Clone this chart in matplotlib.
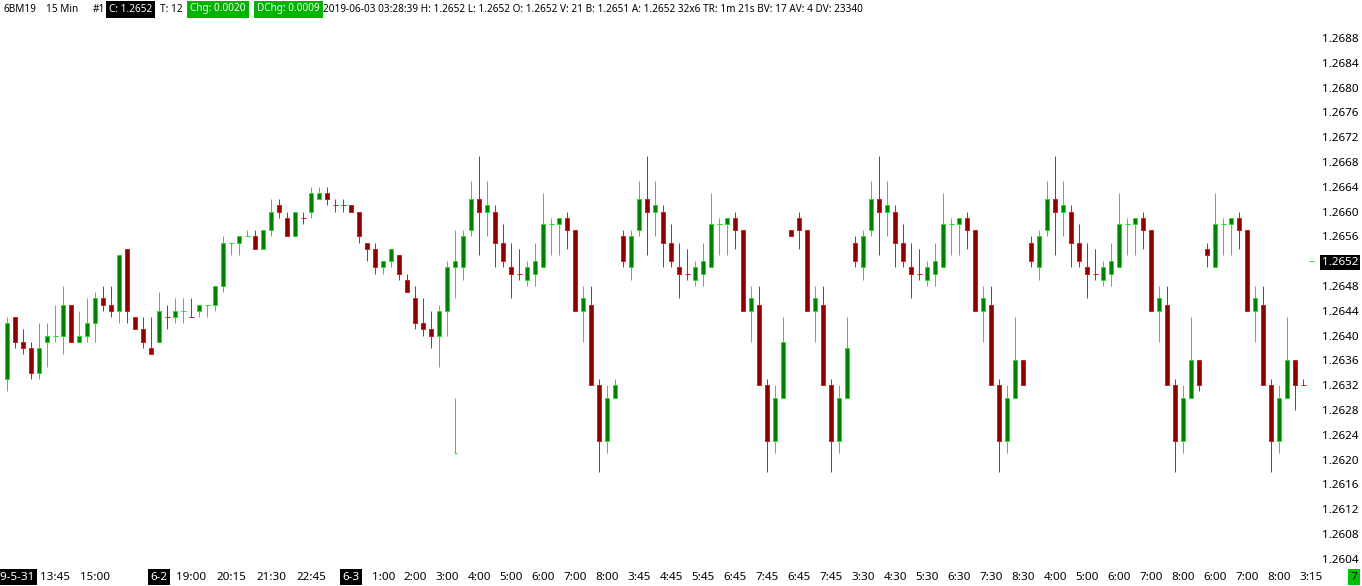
import matplotlib
matplotlib.use("Agg")
import matplotlib.pyplot as plt
from matplotlib.patches import Rectangle
import numpy as np

# 15-minute bars, 6BM19 (British pound futures)
opens = [
    1.2633, 1.2643, 1.2639, 1.2638, 1.2634, 1.2639, 1.2640, 1.2640, 1.2645, 1.2639,
    1.2640, 1.2642, 1.2646, 1.2645, 1.2644, 1.2654, 1.2643, 1.2641, 1.2638, 1.2639,
    1.2643, 1.2643, 1.2644, 1.2643, 1.2644, 1.2645, 1.2645, 1.2648, 1.2655, 1.2655,
    1.2656, 1.2656, 1.2654, 1.2657, 1.2661, 1.2659, 1.2656, 1.2659, 1.2660, 1.2662,
    1.2663, 1.2661, 1.2661, 1.2661, 1.2660, 1.2655, 1.2654, 1.2651, 1.2652, 1.2653,
    1.2649, 1.2646, 1.2642, 1.2641, 1.2640, 1.2644, 1.2651, 1.2651, 1.2657, 1.2662,
    1.2660, 1.2660, 1.2655, 1.2651, 1.2650, 1.2649, 1.2650, 1.2651, 1.2658, 1.2658,
    1.2659, 1.2657, 1.2644, 1.2645, 1.2632, 1.2623, 1.2630, 1.2656, 1.2651, 1.2657,
    1.2662, 1.2660, 1.2660, 1.2655, 1.2651, 1.2650, 1.2649, 1.2650, 1.2651, 1.2658,
    1.2658, 1.2659, 1.2657, 1.2644, 1.2645, 1.2632, 1.2623, 1.2630, 1.2657, 1.2659,
    1.2657, 1.2644, 1.2645, 1.2632, 1.2623, 1.2630, 1.2655, 1.2651, 1.2657, 1.2662,
    1.2660, 1.2660, 1.2655, 1.2651, 1.2650, 1.2649, 1.2650, 1.2651, 1.2658, 1.2658,
    1.2659, 1.2657, 1.2644, 1.2645, 1.2632, 1.2623, 1.2630, 1.2636, 1.2655, 1.2651,
    1.2657, 1.2662, 1.2660, 1.2660, 1.2655, 1.2651, 1.2650, 1.2649, 1.2650, 1.2651,
    1.2658, 1.2658, 1.2659, 1.2657, 1.2644, 1.2645, 1.2632, 1.2623, 1.2630, 1.2636,
    1.2654, 1.2651, 1.2658, 1.2658, 1.2659, 1.2657, 1.2644, 1.2645, 1.2632, 1.2623,
    1.2630, 1.2636, 1.2632, 1.2652,
]
highs = [
    1.2643, 1.2643, 1.2641, 1.2639, 1.2642, 1.2642, 1.2645, 1.2648, 1.2645, 1.2644,
    1.2646, 1.2647, 1.2648, 1.2648, 1.2653, 1.2654, 1.2643, 1.2643, 1.2643, 1.2647,
    1.2645, 1.2646, 1.2646, 1.2646, 1.2645, 1.2645, 1.2648, 1.2656, 1.2655, 1.2656,
    1.2657, 1.2657, 1.2657, 1.2662, 1.2662, 1.2660, 1.2660, 1.2660, 1.2664, 1.2664,
    1.2664, 1.2662, 1.2662, 1.2661, 1.2660, 1.2655, 1.2655, 1.2652, 1.2654, 1.2653,
    1.2650, 1.2648, 1.2646, 1.2644, 1.2645, 1.2652, 1.2657, 1.2657, 1.2665, 1.2669,
    1.2665, 1.2661, 1.2658, 1.2655, 1.2654, 1.2652, 1.2655, 1.2663, 1.2659, 1.2659,
    1.2660, 1.2657, 1.2648, 1.2648, 1.2633, 1.2632, 1.2633, 1.2657, 1.2657, 1.2665,
    1.2669, 1.2665, 1.2661, 1.2658, 1.2655, 1.2654, 1.2652, 1.2655, 1.2663, 1.2659,
    1.2659, 1.2660, 1.2657, 1.2648, 1.2648, 1.2633, 1.2632, 1.2643, 1.2657, 1.2660,
    1.2657, 1.2648, 1.2648, 1.2633, 1.2632, 1.2643, 1.2656, 1.2657, 1.2665, 1.2669,
    1.2665, 1.2661, 1.2658, 1.2655, 1.2654, 1.2652, 1.2655, 1.2663, 1.2659, 1.2659,
    1.2660, 1.2657, 1.2648, 1.2648, 1.2633, 1.2632, 1.2643, 1.2636, 1.2656, 1.2657,
    1.2665, 1.2669, 1.2665, 1.2661, 1.2658, 1.2655, 1.2654, 1.2652, 1.2655, 1.2663,
    1.2659, 1.2659, 1.2660, 1.2657, 1.2648, 1.2648, 1.2633, 1.2632, 1.2643, 1.2636,
    1.2655, 1.2663, 1.2659, 1.2659, 1.2660, 1.2657, 1.2648, 1.2648, 1.2633, 1.2632,
    1.2643, 1.2636, 1.2633, 1.2652,
]
lows = [
    1.2631, 1.2638, 1.2637, 1.2633, 1.2633, 1.2635, 1.2639, 1.2637, 1.2639, 1.2639,
    1.2639, 1.2639, 1.2644, 1.2643, 1.2642, 1.2642, 1.2641, 1.2638, 1.2637, 1.2639,
    1.2641, 1.2642, 1.2642, 1.2643, 1.2643, 1.2643, 1.2644, 1.2647, 1.2653, 1.2653,
    1.2656, 1.2654, 1.2654, 1.2656, 1.2659, 1.2656, 1.2656, 1.2658, 1.2659, 1.2662,
    1.2661, 1.2660, 1.2660, 1.2660, 1.2655, 1.2652, 1.2650, 1.2650, 1.2651, 1.2649,
    1.2647, 1.2641, 1.2640, 1.2638, 1.2635, 1.2640, 1.2646, 1.2649, 1.2656, 1.2653,
    1.2656, 1.2651, 1.2651, 1.2646, 1.2649, 1.2648, 1.2648, 1.2651, 1.2653, 1.2653,
    1.2654, 1.2644, 1.2639, 1.2632, 1.2618, 1.2621, 1.2630, 1.2651, 1.2649, 1.2656,
    1.2653, 1.2656, 1.2651, 1.2651, 1.2646, 1.2649, 1.2648, 1.2648, 1.2651, 1.2653,
    1.2653, 1.2654, 1.2644, 1.2639, 1.2632, 1.2618, 1.2621, 1.2630, 1.2656, 1.2654,
    1.2644, 1.2639, 1.2632, 1.2618, 1.2621, 1.2630, 1.2651, 1.2649, 1.2656, 1.2653,
    1.2656, 1.2651, 1.2651, 1.2646, 1.2649, 1.2648, 1.2648, 1.2651, 1.2653, 1.2653,
    1.2654, 1.2644, 1.2639, 1.2632, 1.2618, 1.2621, 1.2630, 1.2632, 1.2651, 1.2649,
    1.2656, 1.2653, 1.2656, 1.2651, 1.2651, 1.2646, 1.2649, 1.2648, 1.2648, 1.2651,
    1.2653, 1.2653, 1.2654, 1.2644, 1.2639, 1.2632, 1.2618, 1.2621, 1.2630, 1.2631,
    1.2651, 1.2651, 1.2653, 1.2653, 1.2654, 1.2644, 1.2639, 1.2632, 1.2618, 1.2621,
    1.2630, 1.2628, 1.2632, 1.2652,
]
closes = [
    1.2642, 1.2639, 1.2638, 1.2634, 1.2638, 1.2640, 1.2640, 1.2645, 1.2639, 1.2640,
    1.2642, 1.2646, 1.2645, 1.2644, 1.2653, 1.2644, 1.2641, 1.2639, 1.2637, 1.2644,
    1.2643, 1.2644, 1.2644, 1.2643, 1.2645, 1.2645, 1.2648, 1.2655, 1.2655, 1.2656,
    1.2656, 1.2654, 1.2657, 1.2660, 1.2660, 1.2656, 1.2660, 1.2659, 1.2663, 1.2663,
    1.2662, 1.2661, 1.2661, 1.2660, 1.2656, 1.2654, 1.2651, 1.2652, 1.2654, 1.2650,
    1.2647, 1.2642, 1.2641, 1.2640, 1.2644, 1.2651, 1.2652, 1.2656, 1.2662, 1.2660,
    1.2661, 1.2655, 1.2652, 1.2650, 1.2650, 1.2651, 1.2652, 1.2658, 1.2658, 1.2659,
    1.2657, 1.2644, 1.2646, 1.2632, 1.2623, 1.2630, 1.2632, 1.2652, 1.2656, 1.2662,
    1.2660, 1.2661, 1.2655, 1.2652, 1.2650, 1.2650, 1.2651, 1.2652, 1.2658, 1.2658,
    1.2659, 1.2657, 1.2644, 1.2646, 1.2632, 1.2623, 1.2630, 1.2639, 1.2656, 1.2657,
    1.2644, 1.2646, 1.2632, 1.2623, 1.2630, 1.2638, 1.2652, 1.2656, 1.2662, 1.2660,
    1.2661, 1.2655, 1.2652, 1.2650, 1.2650, 1.2651, 1.2652, 1.2658, 1.2658, 1.2659,
    1.2657, 1.2644, 1.2646, 1.2632, 1.2623, 1.2630, 1.2636, 1.2632, 1.2652, 1.2656,
    1.2662, 1.2660, 1.2661, 1.2655, 1.2652, 1.2650, 1.2650, 1.2651, 1.2652, 1.2658,
    1.2658, 1.2659, 1.2657, 1.2644, 1.2646, 1.2632, 1.2623, 1.2630, 1.2636, 1.2632,
    1.2653, 1.2658, 1.2658, 1.2659, 1.2657, 1.2644, 1.2646, 1.2632, 1.2623, 1.2630,
    1.2636, 1.2632, 1.2632, 1.2652,
]
# unchanged bars (open == close) that the chart paints as down bars
flat_down = [20, 23, 37, 41, 42, 64, 85, 114, 136, 162]

# stray print below bar 56
stray_bar = [56]
stray_high = [1.2630]
stray_low = [1.2621]

last_price = "1.2652"
price_ticks = [
    1.2604, 1.2608, 1.2612, 1.2616, 1.2620, 1.2624, 1.2628, 1.2632, 1.2636, 1.2640, 1.2644,
    1.2648, 1.2652, 1.2656, 1.2660, 1.2664, 1.2668, 1.2672, 1.2676, 1.2680, 1.2684, 1.2688,
]

time_pos = [0, 6, 11, 19, 23, 28, 33, 38, 43, 47, 51, 55, 59, 63, 67, 71, 75, 79, 83,
            87, 91, 95, 99, 103, 107, 111, 115, 119, 123, 127, 131, 135, 139, 143, 147,
            151, 155, 159, 163]
time_labels = ["2019-5-31", "13:45", "15:00", "6-2", "19:00", "20:15", "21:30", "22:45",
               "6-3", "1:00", "2:00", "3:00", "4:00", "5:00", "6:00", "7:00", "8:00",
               "3:45", "4:45", "5:45", "6:45", "7:45", "6:45", "7:45", "3:30", "4:30",
               "5:30", "6:30", "7:30", "8:30", "4:00", "5:00", "6:00", "7:00", "8:00",
               "6:00", "7:00", "8:00", "3:15"]
date_labels = ["2019-5-31", "6-2", "6-3"]

header = [
    (4, "6BM19", None),
    (46, "15 Min", None),
    (93, "#1", None),
    (109, "C: 1.2652", "black"),
    (160, "T: 12", None),
    (190, "Chg: 0.0020", "#00b400"),
    (257, "DChg: 0.0009", "#00b400"),
    (323, "2019-06-03 03:28:39 H: 1.2652 L: 1.2652 O: 1.2652 V: 21 B: 1.2651 "
          "A: 1.2652 32x6 TR: 1m 21s BV: 17 AV: 4 DV: 23340", None),
]

UP_EDGE, UP_FILL = "#1ee61e", "#008000"
DN_EDGE, DN_FILL = "#e8141c", "#8c0000"
FONT = "Noto Sans"
FS = 8.4
HEAD_FS = 7.2

W, H = 1362, 586
plt.rcParams["font.family"] = FONT
fig = plt.figure(figsize=(W / 100, H / 100), dpi=100)
fig.patch.set_facecolor("white")

# plot area: pixel rows 18..566, columns 0..1318
ax = fig.add_axes([0, 20 / H, 1318 / W, 548 / H])
px_per_unit = 62000.0  # 6.2 px per 0.0001
ax.set_ylim(1.2688 - (566 - 38) / px_per_unit, 1.2688 + 20 / px_per_unit)
ax.set_xlim(-7.3 / 8, (1318 - 7.3) / 8)

lw = 0.72
bw = 0.5
for i, (o, h, l, c) in enumerate(zip(opens, highs, lows, closes)):
    up = c > o or (c == o and i not in flat_down)
    edge = UP_EDGE if up else DN_EDGE
    fill = UP_FILL if up else DN_FILL
    ax.vlines(i, l, h, color=edge, lw=lw, zorder=2)
    if o != c:
        ax.add_patch(Rectangle((i - bw / 2, min(o, c)), bw, abs(c - o),
                               facecolor=fill, edgecolor=edge, lw=lw, zorder=3))
    else:
        ax.hlines(o, i - 0.32, i + 0.32, color=edge, lw=lw, zorder=3)

for i, hi, lo in zip(stray_bar, stray_high, stray_low):
    ax.vlines(i, lo, hi, color=UP_EDGE, lw=lw, zorder=2)
    ax.hlines(lo, i - 0.15, i + 0.15, color=UP_EDGE, lw=lw, zorder=2)

for s in ax.spines.values():
    s.set_visible(False)

# price scale
ax.yaxis.tick_right()
ax.set_yticks(price_ticks, ["%.4f" % p for p in price_ticks])
ax.tick_params(axis="y", length=0, pad=3, labelsize=FS, labelcolor="black")
for t in ax.get_yticklabels():
    if t.get_text() == last_price:
        t.set_color("white")
        t.set_bbox(dict(facecolor="black", edgecolor="none", boxstyle="square,pad=0.15"))

# time scale
ax.set_xticks(time_pos, time_labels)
ax.tick_params(axis="x", length=0, pad=4, labelsize=FS, labelcolor="black")
for t in ax.get_xticklabels():
    if t.get_text() in date_labels:
        t.set_color("white")
        t.set_bbox(dict(facecolor="black", edgecolor="none", boxstyle="square,pad=0.2"))

# header line
for x, txt, bg in header:
    kw = {}
    if bg is not None:
        kw = dict(color="white",
                  bbox=dict(facecolor=bg, edgecolor="none", boxstyle="square,pad=0.3"))
    fig.text(x / W, 1 - 9 / H, txt, fontsize=HEAD_FS, va="center", ha="left", **kw)

# bar countdown box, lower right
fig.text(1354 / W, 1 - 577 / H, "7", fontsize=FS, va="center", ha="center",
         bbox=dict(facecolor="#00c000", edgecolor="none", boxstyle="square,pad=0.25"))

fig.savefig("out.png", dpi=100, facecolor="white")
